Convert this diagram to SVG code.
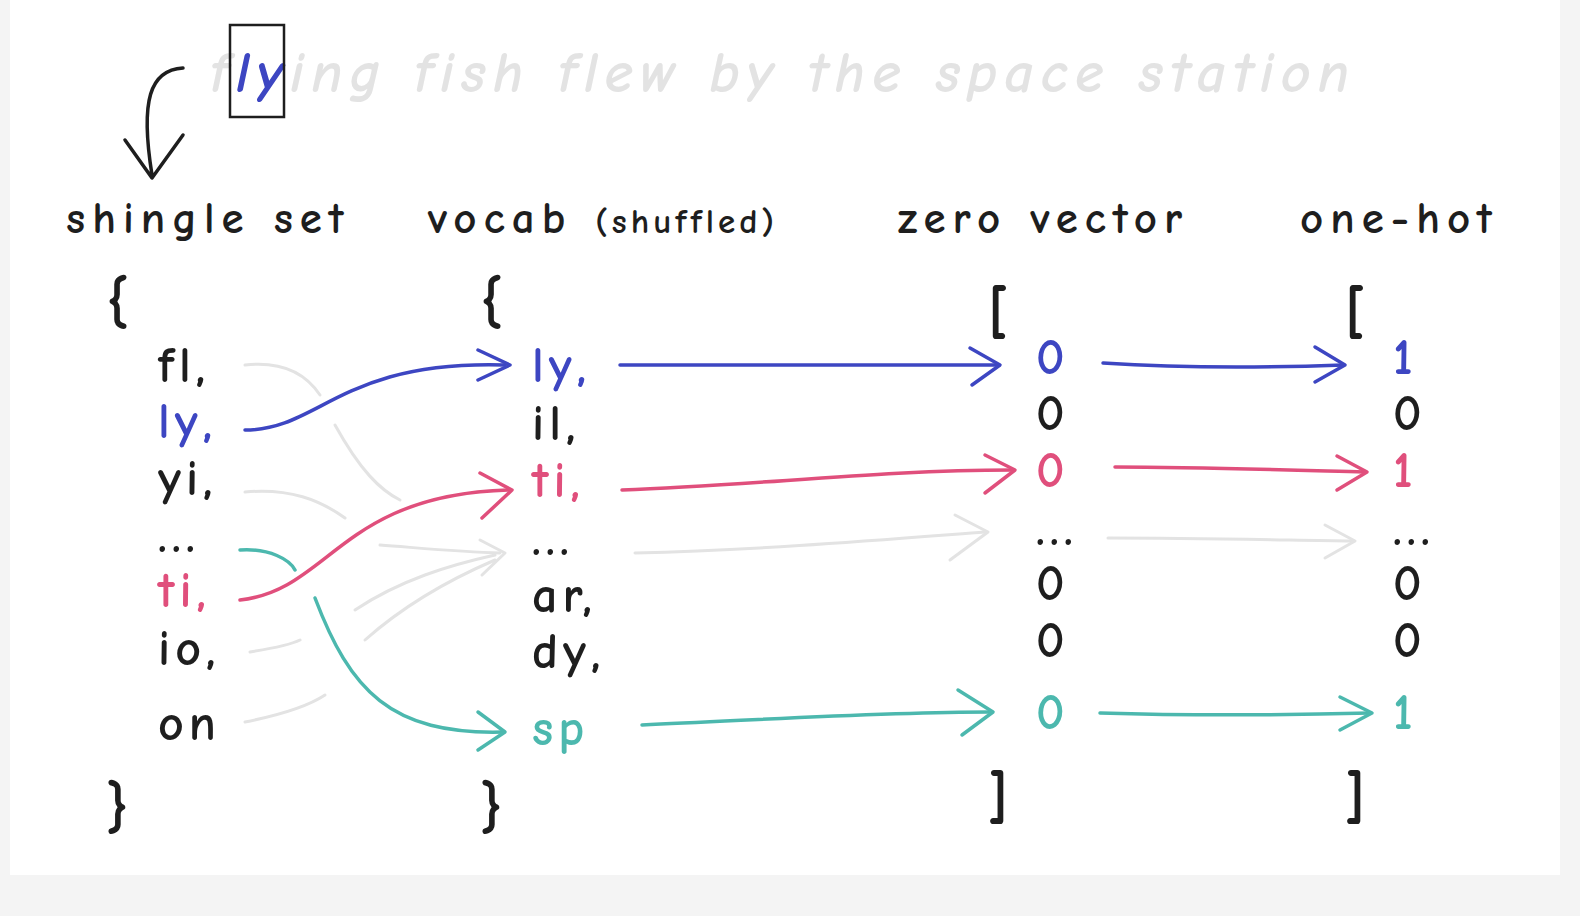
<svg xmlns="http://www.w3.org/2000/svg" width="1580" height="916" viewBox="0 0 1580 916">
<style>
text{font-family:"Comic Neue","Noto Sans","DejaVu Sans",sans-serif;fill:#1e1e1e}
.h{font-size:45px;letter-spacing:7px;font-weight:bold}
.t{font-size:50px;letter-spacing:5px;font-weight:bold}
.br{font-size:60px;font-weight:bold}
.b{fill:#3d46c2}.p{fill:#e04f7c}.c{fill:#4cb8ae}
.l{fill:none;stroke-width:3.5;stroke-linecap:round;stroke-linejoin:round}
.lb{stroke:#3d46c2}.lp{stroke:#e04f7c}.lc{stroke:#4cb8ae}.lg{stroke:#e3e3e3;stroke-width:3}
</style>
<rect width="1580" height="916" fill="#f4f4f4"/>
<rect x="10" y="0" width="1550" height="875" fill="#fff"/>
<g id="title">
<text x="210" y="92" style="font-size:58px;font-style:italic;font-weight:bold;fill:#e3e3e3;letter-spacing:7px">f<tspan class="b">ly</tspan>ing fish flew by the space station</text>
<rect x="230" y="25" width="54" height="92" fill="none" stroke="#1e1e1e" stroke-width="2.5"/>
</g>
<g id="connectors">
<path class="l" stroke="#1e1e1e" d="M183 68 C150 70 140 100 152 175 M125 140 L152 178 L183 135"/>
<g class="l lg">
<path d="M245 365 C290 360 310 380 320 395"/><path d="M335 425 C360 470 380 490 400 500"/>
<path d="M245 492 C290 488 320 500 345 518"/><path d="M380 545 C420 548 460 552 500 553"/>
<path d="M355 610 C400 580 450 565 495 555"/><path d="M365 640 C410 600 460 575 495 560"/>
<path d="M250 652 C275 648 290 645 300 640"/><path d="M245 722 C280 715 310 705 325 695"/>
<path d="M480 540 L505 553 L482 575"/>
<path d="M635 553 C760 550 880 540 985 532"/><path d="M955 515 L988 532 L950 560"/>
<path d="M1108 538 C1200 538 1280 540 1352 541"/><path d="M1325 525 L1355 541 L1325 558"/>
</g>
<g class="l lb">
<path d="M245 430 C320 430 340 360 505 365"/><path d="M478 350 L510 365 L478 380"/>
<path d="M620 365 L998 365"/><path d="M970 348 L1000 365 L972 385"/>
<path d="M1103 363 C1180 368 1260 368 1343 365"/><path d="M1315 347 L1345 365 L1315 382"/>
</g>
<g class="l lp">
<path d="M240 600 C330 590 340 495 508 490"/><path d="M480 473 L512 490 L482 518"/>
<path d="M622 490 C760 485 880 470 1012 470"/><path d="M985 455 L1015 470 L985 493"/>
<path d="M1115 467 C1200 467 1290 470 1364 472"/><path d="M1337 456 L1367 472 L1337 490"/>
</g>
<g class="l lc">
<path d="M240 550 C270 548 290 560 295 570"/>
<path d="M315 598 C350 690 390 735 503 732"/><path d="M478 712 L505 732 L478 750"/>
<path d="M642 725 C760 720 880 712 990 712"/><path d="M958 690 L993 712 L962 735"/>
<path d="M1100 713 C1200 716 1290 715 1370 713"/><path d="M1340 697 L1372 713 L1340 730"/>
</g>
</g>
<g id="headers">
<text class="h" x="66" y="233">shingle set</text>
<text class="h" x="428" y="233">vocab <tspan style="font-size:35px;letter-spacing:4px">(shuffled)</tspan></text>
<text class="h" x="898" y="233">zero vector</text>
<text class="h" x="1300" y="233">one-hot</text>
</g>
<g id="shingle-set">
<text class="br" x="106" y="322">{</text>
<text class="t" x="158" y="382">fl,</text>
<text class="t b" x="158" y="438">ly,</text>
<text class="t" x="158" y="495">yi,</text>
<text class="t" x="158" y="552">...</text>
<text class="t p" x="158" y="607">ti,</text>
<text class="t" x="158" y="665">io,</text>
<text class="t" x="158" y="740">on</text>
<text class="br" x="106" y="827">}</text>
</g>
<g id="vocab">
<text class="br" x="480" y="322">{</text>
<text class="t b" x="532" y="382">ly,</text>
<text class="t" x="532" y="440">il,</text>
<text class="t p" x="532" y="497">ti,</text>
<text class="t" x="532" y="555">...</text>
<text class="t" x="532" y="612">ar,</text>
<text class="t" x="532" y="668">dy,</text>
<text class="t c" x="532" y="745">sp</text>
<text class="br" x="480" y="827">}</text>
</g>
<g id="zero-vector">
<text class="br" x="988" y="332">[</text>
<text class="t b" x="1036" y="374">0</text>
<text class="t" x="1036" y="430">0</text>
<text class="t p" x="1036" y="487">0</text>
<text class="t" x="1036" y="545">...</text>
<text class="t" x="1036" y="600">0</text>
<text class="t" x="1036" y="657">0</text>
<text class="t c" x="1036" y="729">0</text>
<text class="br" x="988" y="817">]</text>
</g>
<g id="one-hot">
<text class="br" x="1345" y="332">[</text>
<text class="t b" x="1393" y="374">1</text>
<text class="t" x="1393" y="430">0</text>
<text class="t p" x="1393" y="487">1</text>
<text class="t" x="1393" y="545">...</text>
<text class="t" x="1393" y="600">0</text>
<text class="t" x="1393" y="657">0</text>
<text class="t c" x="1393" y="729">1</text>
<text class="br" x="1345" y="817">]</text>
</g>
</svg>
